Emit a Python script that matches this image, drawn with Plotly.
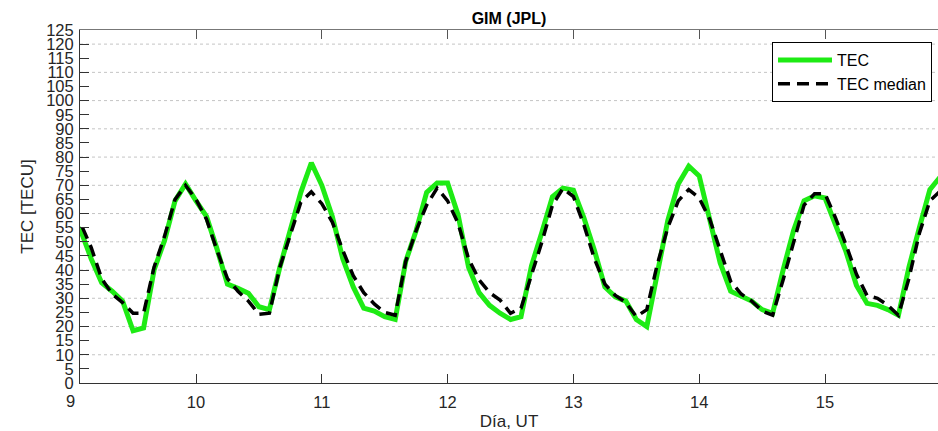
import numpy as np
import plotly.graph_objects as go

# 2-hourly GIM (JPL) samples, starting at day 9, 00 UT
tec = [58, 54, 44, 35.5, 32.5, 29, 18.5, 19.5, 40, 50.5, 64.5, 70.5,
       64.5, 59, 47.5, 35, 33.5, 31.8, 27, 26, 41, 55, 67.5, 78,
       70, 59, 44, 34, 26.5, 25.5, 23.5, 22.5, 43, 54, 67.5, 70.8,
       70.8, 59.5, 41, 32, 27.5, 24.7, 22.5, 23.5, 41.5, 53.5, 66, 69,
       68.3, 58.5, 47, 34, 30.5, 29, 22.5, 20, 38, 57.5, 70.5, 76.8,
       73.3, 57, 42.5, 32.5, 30.6, 29, 26, 24.7, 40, 54, 64.5, 66.3,
       65.5, 56, 46.5, 34.5, 28.2, 27.5, 26, 24, 41, 55, 68.5, 73]

tec_median = [60, 56.5, 48, 37, 31.5, 28.5, 24.7, 24.7, 41, 52, 65, 70,
              65, 58, 47, 37, 32.5, 29, 24.3, 24.7, 41, 53, 64, 67.7,
              63.5, 57, 47, 38, 32, 28, 25, 24, 43, 54, 63, 69,
              64.5, 56.5, 44, 36.5, 32, 29.4, 24.7, 26.5, 38, 50, 63, 68.9,
              66, 56, 44, 35, 31, 28.5, 23.5, 26, 42, 55, 64.5, 68.5,
              65.5, 58, 47, 36, 31.5, 29, 25.5, 24, 36.5, 49.5, 63, 67,
              67, 58.5, 49, 38.5, 31, 30, 27.5, 24, 37, 53, 64.5, 68]

day_ticks = [9, 10, 11, 12, 13, 14, 15]
grid_levels = [10, 20, 30, 40, 50, 60, 70, 80, 90, 100, 110, 120]

start_day = 9
step_days = 2 / 24
times = start_day + np.arange(len(tec)) * step_days

x_range = [9.0779, 15.898]
y_range = [0, 125]

FONT = "Liberation Sans, Arial, sans-serif"
TXT = "#262626"
TICK_SIZE = 16.5

fig = go.Figure()
fig.add_trace(go.Scatter(
    x=times, y=tec, mode="lines", name="TEC",
    line=dict(color="rgb(30,235,20)", width=5),
))
fig.add_trace(go.Scatter(
    x=times, y=tec_median, mode="lines", name="TEC median",
    line=dict(color="black", width=3.5, dash="12px,7px"),
))

# dotted horizontal grid every 10 TECU
for g in grid_levels:
    fig.add_shape(type="line", xref="paper", yref="y", x0=0, x1=1, y0=g, y1=g,
                  line=dict(color="#c4c4c4", width=1, dash="dot"), layer="below")

visible_days = [d for d in day_ticks if x_range[0] <= d <= x_range[1]]
hidden_days = [d for d in day_ticks if d < x_range[0]]

fig.update_layout(
    width=938, height=431,
    margin=dict(l=80, r=0, t=30, b=48),
    paper_bgcolor="white", plot_bgcolor="white",
    font=dict(family=FONT, color=TXT),
    title=dict(text="<b>GIM (JPL)</b>", x=(80 + 938) / 2 / 938, xanchor="center",
               y=1 - 18 / 431, yanchor="middle", font=dict(size=16, color="black")),
    showlegend=True,
    legend=dict(x=0.993, y=0.966, xanchor="right", yanchor="top",
                bgcolor="white", bordercolor="black", borderwidth=1,
                font=dict(size=16, color="black", family=FONT),
                itemwidth=54, tracegroupgap=0),
    xaxis=dict(range=x_range, tickvals=visible_days,
               ticktext=[str(d) for d in visible_days],
               ticks="inside", ticklen=9, tickcolor="#333", tickwidth=1,
               showline=True, linecolor="#333", linewidth=1,
               showgrid=False, zeroline=False, ticklabelstandoff=4,
               tickfont=dict(size=TICK_SIZE, color=TXT),
               title=dict(text="Día, UT", font=dict(size=17, color=TXT), standoff=6)),
    xaxis2=dict(range=x_range, overlaying="x", side="top", tickvals=visible_days,
                ticks="inside", ticklen=9, tickcolor="#555", showticklabels=False,
                showline=True, linecolor="#777", linewidth=1,
                showgrid=False, zeroline=False),
    yaxis=dict(range=y_range, dtick=5, tick0=0,
               ticks="inside", ticklen=9, tickcolor="#333", tickwidth=1,
               showline=True, linecolor="#333", linewidth=1,
               showgrid=False, zeroline=False, ticklabelstandoff=2,
               tickfont=dict(size=TICK_SIZE, color=TXT),
               title=dict(text="TEC [TECU]", font=dict(size=17, color=TXT), standoff=8)),
)

# day labels that fall just left of the plotted window
span = x_range[1] - x_range[0]
for d in hidden_days:
    fig.add_annotation(x=(d - x_range[0]) / span, y=0, xref="paper", yref="paper",
                       text=str(d), showarrow=False, xanchor="center", yanchor="top",
                       yshift=-7, font=dict(size=TICK_SIZE, color=TXT, family=FONT))

# keep xaxis2 active with an empty helper trace
fig.add_trace(go.Scatter(x=[], y=[], xaxis="x2", showlegend=False, hoverinfo="skip"))

fig.write_html("out.html")
